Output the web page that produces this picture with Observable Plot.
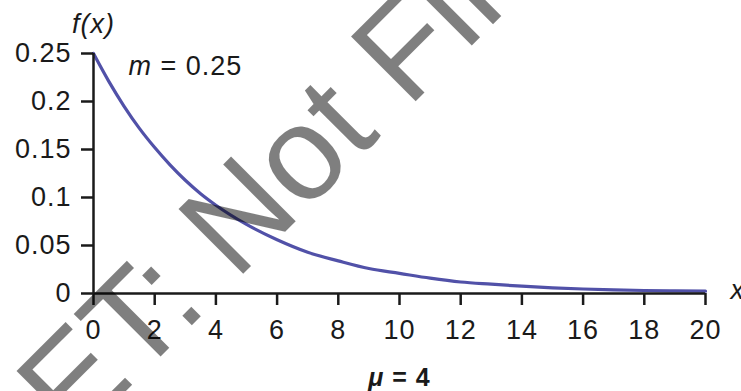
<!DOCTYPE html>
<html><head><meta charset="utf-8">
<script src="https://cdn.jsdelivr.net/npm/d3@7"></script>
<script src="https://cdn.jsdelivr.net/npm/@observablehq/plot@0.6"></script>
<style>
html,body{margin:0;padding:0;background:#fff;overflow:hidden;}
#chart svg text{letter-spacing:1px;}
#chart svg g.wm text{letter-spacing:0;}
</style></head><body><div id="chart"></div>
<script>
// values
const xValues = [0, 0.5, 1, 1.5, 2, 2.5, 3, 3.5, 4, 5, 6, 7, 8, 9, 10, 11, 12, 13, 14, 15, 16, 17, 18, 19, 20];
const densityValues = [0.25, 0.221, 0.195, 0.172, 0.152, 0.134, 0.118, 0.104, 0.092, 0.072, 0.056, 0.043, 0.034, 0.026, 0.021, 0.016, 0.012, 0.0097, 0.0076, 0.0059, 0.0047, 0.0038, 0.0031, 0.0027, 0.0024];
const xTicks = [0, 2, 4, 6, 8, 10, 12, 14, 16, 18, 20];
const xTickLabels = ["0", "2", "4", "6", "8", "10", "12", "14", "16", "18", "20"];
const yTicks = [0, 0.05, 0.1, 0.15, 0.2, 0.25];
const yTickLabels = ["0", "0.05", "0.1", "0.15", "0.2", "0.25"];
const yAxisTitle = "f(x)";
const xAxisTitle = "x";
const rateLabel = "m = 0.25";
const meanSymbol = "μ";
const meanLabel = "μ = 4";
const watermark = "ET: Not Final";

const curve = xValues.map((x, i) => ({x, y: densityValues[i]}));
const font = "'Liberation Sans', Arial, sans-serif";
const ink = "#1a1a1a";

const chart = Plot.plot({
  width: 741, height: 391,
  marginLeft: 93, marginRight: 36, marginTop: 53, marginBottom: 98,
  style: {fontFamily: font, fontSize: "27px", color: ink, background: "#fff", overflow: "visible"},
  x: {domain: [0, 20]},
  y: {domain: [0, 0.25]},
  marks: [
    Plot.line(curve, {x: "x", y: "y", stroke: "#5151a8", strokeWidth: 3.2, curve: "monotone-x"}),
    Plot.ruleY([0], {stroke: ink, strokeWidth: 2.5}),
    Plot.ruleX([0], {stroke: ink, strokeWidth: 2.5}),
    Plot.axisX({ticks: xTicks, tickFormat: d => xTickLabels[xTicks.indexOf(d)], tickSize: 12, tickPadding: 14, strokeWidth: 2.5, label: null, fontSize: 27}),
    Plot.axisY({ticks: yTicks, tickFormat: d => yTickLabels[yTicks.indexOf(d)], tickSize: 12, tickPadding: 10, strokeWidth: 2.5, label: null, fontSize: 27}),
    Plot.text([yAxisTitle], {frameAnchor: "top-left", dy: -29, fontStyle: "italic", fontSize: 27, textAnchor: "middle", lineAnchor: "middle", fill: ink}),
    Plot.text([rateLabel], {frameAnchor: "top-left", dx: 35, dy: 13, fontSize: 27, textAnchor: "start", lineAnchor: "middle", fill: ink}),
    Plot.text([xAxisTitle], {frameAnchor: "bottom-right", dx: 25, dy: -3, fontStyle: "italic", fontSize: 27, textAnchor: "start", lineAnchor: "middle", fill: ink}),
    Plot.text([meanLabel], {frameAnchor: "bottom", dy: 84, fontWeight: "bold", fontSize: 25, textAnchor: "middle", lineAnchor: "middle", fill: ink}),
    Plot.text([watermark], {className: "wm", frameAnchor: "bottom-left", dx: -50, dy: 120, rotate: -45, fontSize: 133, textAnchor: "start", lineAnchor: "middle", fill: "#000", fillOpacity: 0.5})
  ]
});

// italic variable names inside the labels
const ns = "http://www.w3.org/2000/svg";
function italicFirst(t, label, symbol) {
  const rest = label.slice(symbol.length);
  t.textContent = "";
  const ts = document.createElementNS(ns, "tspan");
  ts.setAttribute("font-style", "italic");
  ts.textContent = symbol;
  t.appendChild(ts);
  t.appendChild(document.createTextNode(rest));
}
chart.querySelectorAll("text").forEach(t => {
  if (t.textContent === rateLabel) italicFirst(t, rateLabel, rateLabel.split(" ")[0]);
  else if (t.textContent === meanLabel) italicFirst(t, meanLabel, meanSymbol);
});
document.getElementById("chart").appendChild(chart);
</script>
</body></html>
